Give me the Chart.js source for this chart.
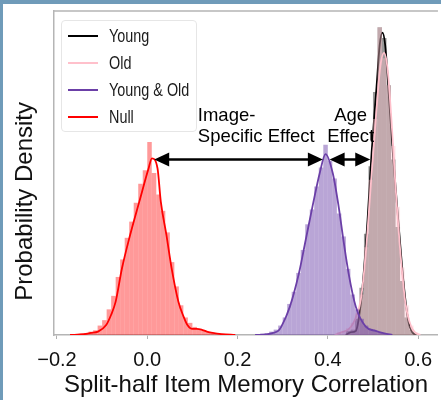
<!DOCTYPE html>
<html>
<head>
<meta charset="utf-8">
<script src="https://cdn.jsdelivr.net/npm/chart.js@4.4.0/dist/chart.umd.min.js"></script>
<style>
html,body{margin:0;padding:0;}
body{width:441px;height:400px;background:#6f9bb9;position:relative;overflow:hidden;font-family:'Liberation Sans',Arial,sans-serif;}
#wrap{position:absolute;left:3px;top:4px;width:438px;height:396px;background:#fff;}
#c{position:absolute;left:0;top:0;}
#legend{position:absolute;left:58px;top:16px;width:136px;height:112px;border:1px solid #e6e6e6;border-radius:4px;background:rgba(255,255,255,0.85);box-sizing:border-box;}
.item{position:absolute;left:0;width:100%;height:20px;}
.swatch{position:absolute;left:6px;top:9px;width:30px;height:2px;}
.lbl{position:absolute;left:47px;top:0;font-size:18px;line-height:20px;transform:scaleX(0.8);transform-origin:left center;white-space:nowrap;color:#1a1a1a;}
</style>
</head>
<body>
<div id="wrap">
  <canvas id="c" width="438" height="396"></canvas>
  <div id="legend"></div>
</div>
<script>
// ---------- data ----------
const seriesNames = ['Young', 'Old', 'Young & Old', 'Null'];
const xTicks = [-0.2, 0.0, 0.2, 0.4, 0.6];
const xTickLabels = ['\u22120.2', '0.0', '0.2', '0.4', '0.6'];

// histogram bin centres and densities
const nullBins = [-0.165,-0.155,-0.145,-0.135,-0.125,-0.115,-0.105,-0.095,-0.085,-0.075,-0.065,-0.055,-0.045,-0.035,-0.025,-0.015,-0.005,0.005,0.015,0.025,0.035,0.045,0.055,0.065,0.075,0.085,0.095,0.105,0.115,0.125,0.135,0.145,0.155,0.165,0.175,0.185];
const nullHist = [0.05,0.08,0.1,0.15,0.25,0.35,0.7,1.1,1.9,2.9,4.3,5.6,7.2,8.4,9.8,11.2,12.2,14.3,12.0,10.4,9.2,7.6,5.4,3.6,2.2,1.3,0.9,0.6,0.45,0.35,0.25,0.15,0.12,0.08,0.05,0.03];

const yoBins = [0.245,0.255,0.265,0.275,0.285,0.295,0.305,0.315,0.325,0.335,0.345,0.355,0.365,0.375,0.385,0.395,0.405,0.415,0.425,0.435,0.445,0.455,0.465,0.475,0.485,0.495,0.505,0.515,0.525,0.535];
const yoHist = [0.05,0.1,0.15,0.25,0.4,0.7,1.3,2.3,3.2,4.6,6.3,8.2,9.3,11.0,12.4,14.1,12.9,11.6,9.0,7.3,4.9,3.0,1.9,1.2,0.7,0.45,0.3,0.2,0.1,0.05];

const youngBins = [0.445,0.455,0.465,0.475,0.485,0.495,0.505,0.515,0.525,0.535,0.545,0.555,0.565,0.575,0.585,0.595];
const youngHist = [0.3,0.4,1.2,3.5,7.5,12.5,18.0,22.8,22.0,18.5,13.0,8.0,4.0,1.3,0.4,0.1];

const oldBins = [0.425,0.435,0.445,0.455,0.465,0.475,0.485,0.495,0.505,0.515,0.525,0.535,0.545,0.555,0.565,0.575,0.585,0.595];
const oldHist = [0.2,0.3,0.5,0.9,1.6,3.0,6.5,11.5,16.0,22.8,20.5,18.5,14.0,9.5,5.0,2.2,0.7,0.2];

// kernel density curves
const nullKdeX = [-0.171,-0.14,-0.125,-0.109,-0.091,-0.080,-0.070,-0.056,-0.038,-0.0176,0.003,0.0103,0.0227,0.030,0.0425,0.054,0.069,0.080,0.089,0.100,0.110,0.120,0.132,0.145,0.165,0.195];
const nullKdeY = [0,0.06,0.15,0.25,0.74,1.5,2.47,4.94,7.4,9.88,12.35,13.09,12.35,9.88,7.4,4.94,2.47,1.4,0.74,0.45,0.45,0.4,0.25,0.15,0.06,0];

const yoKdeX = [0.239,0.265,0.279,0.290,0.297,0.316,0.336,0.351,0.366,0.382,0.395,0.411,0.424,0.4345,0.446,0.462,0.484,0.506,0.525,0.543];
const yoKdeY = [0,0.05,0.15,0.3,0.62,2.1,4.57,7.04,9.51,11.98,13.4,11.98,9.51,7.04,4.57,2.1,0.62,0.3,0.12,0];

const youngKdeX = [0.440,0.450,0.462,0.468,0.477,0.488,0.497,0.508,0.515,0.521,0.527,0.534,0.544,0.556,0.5686,0.578,0.587,0.598];
const youngKdeY = [0,0.2,0.3,1.1,3.6,8.5,13.5,18.4,21.5,22.4,21.5,18.4,13.5,8.5,3.6,1.1,0.2,0];

const oldKdeX = [0.415,0.430,0.445,0.455,0.462,0.473,0.484,0.495,0.506,0.516,0.5245,0.532,0.541,0.550,0.561,0.572,0.585,0.595,0.605];
const oldKdeY = [0,0.2,0.4,0.8,1.3,2.6,6.0,11.0,15.9,19.8,20.9,19.8,15.9,11.0,6.0,2.35,0.6,0.15,0];

// annotations (data coordinates)
const arrowSpans = [[0.0154, 0.389], [0.404, 0.494]];
const arrowLevel = 13.0;
const annotText = [
  {lines: ['Image-', 'Specific Effect'], x: 0.112, align: 'left'},
  {lines: ['Age', 'Effect'], x: 0.4505, align: 'center'}
];
const annotLineLevels = [16.24, 14.67];
const yTitle = 'Probability Density';
const xTitle = 'Split-half Item Memory Correlation';

// ---------- styles ----------
const FONT = "'Liberation Sans', Arial, Helvetica, sans-serif";
const lineColors = ['#000000', '#ffc0cb', '#6b3fa7', '#ff0000'];
const fillColors = ['rgba(0,0,0,0.4)', 'rgba(255,192,203,0.4)', 'rgba(107,63,167,0.47)', 'rgba(255,0,0,0.4)'];
const spineColor = '#b5b5b5';

Chart.defaults.font.family = FONT;

function pts(xs, ys) { return xs.map((v, i) => ({x: v, y: ys[i]})); }
function hist(label, bins, vals, idx, order) {
  return {type: 'bar', label: label + ' hist', data: pts(bins, vals), backgroundColor: fillColors[idx],
    borderWidth: 0, inflateAmount: 0, grouped: false, barPercentage: 1, categoryPercentage: 1, order: order};
}
function kde(label, xs, ys, idx, order) {
  return {type: 'line', label: label, data: pts(xs, ys), borderColor: lineColors[idx], backgroundColor: lineColors[idx],
    borderWidth: 1.8, pointRadius: 0, fill: false, cubicInterpolationMode: 'monotone', order: order};
}

const datasets = [
  kde(seriesNames[0], youngKdeX, youngKdeY, 0, 7),
  hist(seriesNames[0], youngBins, youngHist, 0, 8),
  kde(seriesNames[1], oldKdeX, oldKdeY, 1, 5),
  hist(seriesNames[1], oldBins, oldHist, 1, 6),
  kde(seriesNames[2], yoKdeX, yoKdeY, 2, 3),
  hist(seriesNames[2], yoBins, yoHist, 2, 4),
  kde(seriesNames[3], nullKdeX, nullKdeY, 3, 1),
  hist(seriesNames[3], nullBins, nullHist, 3, 2)
];

function drawArrow(ctx, x1, x2, y) {
  const hl = 15, hw = 7;
  ctx.save();
  ctx.strokeStyle = '#000'; ctx.fillStyle = '#000'; ctx.lineWidth = 2.5;
  ctx.beginPath(); ctx.moveTo(x1 + hl - 1, y); ctx.lineTo(x2 - hl + 1, y); ctx.stroke();
  ctx.beginPath(); ctx.moveTo(x1, y); ctx.lineTo(x1 + hl, y - hw); ctx.lineTo(x1 + hl, y + hw); ctx.closePath(); ctx.fill();
  ctx.beginPath(); ctx.moveTo(x2, y); ctx.lineTo(x2 - hl, y - hw); ctx.lineTo(x2 - hl, y + hw); ctx.closePath(); ctx.fill();
  ctx.restore();
}

const annotPlugin = {
  id: 'annot',
  afterDraw(chart) {
    const {ctx, chartArea, scales: {x, y}} = chart;
    ctx.save();
    ctx.strokeStyle = spineColor; ctx.lineWidth = 1.5;
    ctx.beginPath(); ctx.moveTo(chartArea.left, chartArea.top); ctx.lineTo(chartArea.right, chartArea.top); ctx.stroke();
    ctx.restore();
    arrowSpans.forEach(s => drawArrow(ctx, x.getPixelForValue(s[0]), x.getPixelForValue(s[1]), y.getPixelForValue(arrowLevel)));
    ctx.save();
    ctx.fillStyle = '#000';
    ctx.font = '18.5px ' + FONT;
    ctx.textBaseline = 'middle';
    annotText.forEach(t => {
      ctx.textAlign = t.align;
      t.lines.forEach((ln, i) => ctx.fillText(ln, x.getPixelForValue(t.x), y.getPixelForValue(annotLineLevels[i])));
    });
    ctx.restore();
    ctx.save();
    ctx.translate(22, y.getPixelForValue(9.9));
    ctx.rotate(-Math.PI / 2);
    ctx.textAlign = 'center'; ctx.textBaseline = 'middle';
    ctx.font = '24px ' + FONT; ctx.fillStyle = '#111';
    ctx.fillText(yTitle, 0, 0);
    ctx.restore();
  }
};

const chart = new Chart(document.getElementById('c'), {
  type: 'bar',
  data: {datasets: datasets},
  plugins: [annotPlugin],
  options: {
    responsive: false,
    animation: false,
    events: [],
    layout: {padding: {top: 7, right: 0, left: 0, bottom: 0}},
    plugins: {legend: {display: false}, tooltip: {enabled: false}},
    scales: {
      x: {
        type: 'linear', min: -0.2066, max: 0.644, offset: false,
        afterBuildTicks: s => { s.ticks = xTicks.map(v => ({value: v})); },
        afterFit: s => { s.height = 65; },
        ticks: {callback: (v, i) => xTickLabels[i], font: {size: 20}, color: '#111', padding: 9, maxRotation: 0, autoSkip: false},
        grid: {display: true, drawOnChartArea: false, drawTicks: true, tickLength: 4, color: '#b0b0b0', lineWidth: 1, offset: false},
        border: {display: true, color: spineColor, width: 1.5},
        title: {display: true, text: xTitle, font: {size: 24}, color: '#111', align: 'center', padding: {top: 0, bottom: 0}}
      },
      y: {
        type: 'linear', min: 0, max: 24,
        afterFit: s => { s.width = 51; },
        ticks: {display: false},
        grid: {display: false},
        border: {display: true, color: spineColor, width: 1.5}
      }
    }
  }
});

const legendEl = document.getElementById('legend');
chart.data.datasets.filter(d => d.type === 'line').forEach((d, i) => {
  const item = document.createElement('div');
  item.className = 'item';
  item.style.top = (5 + i * 27) + 'px';
  const sw = document.createElement('div');
  sw.className = 'swatch'; sw.style.background = d.borderColor;
  const lb = document.createElement('div');
  lb.className = 'lbl'; lb.textContent = d.label;
  item.appendChild(sw); item.appendChild(lb);
  legendEl.appendChild(item);
});
</script>
</body>
</html>
